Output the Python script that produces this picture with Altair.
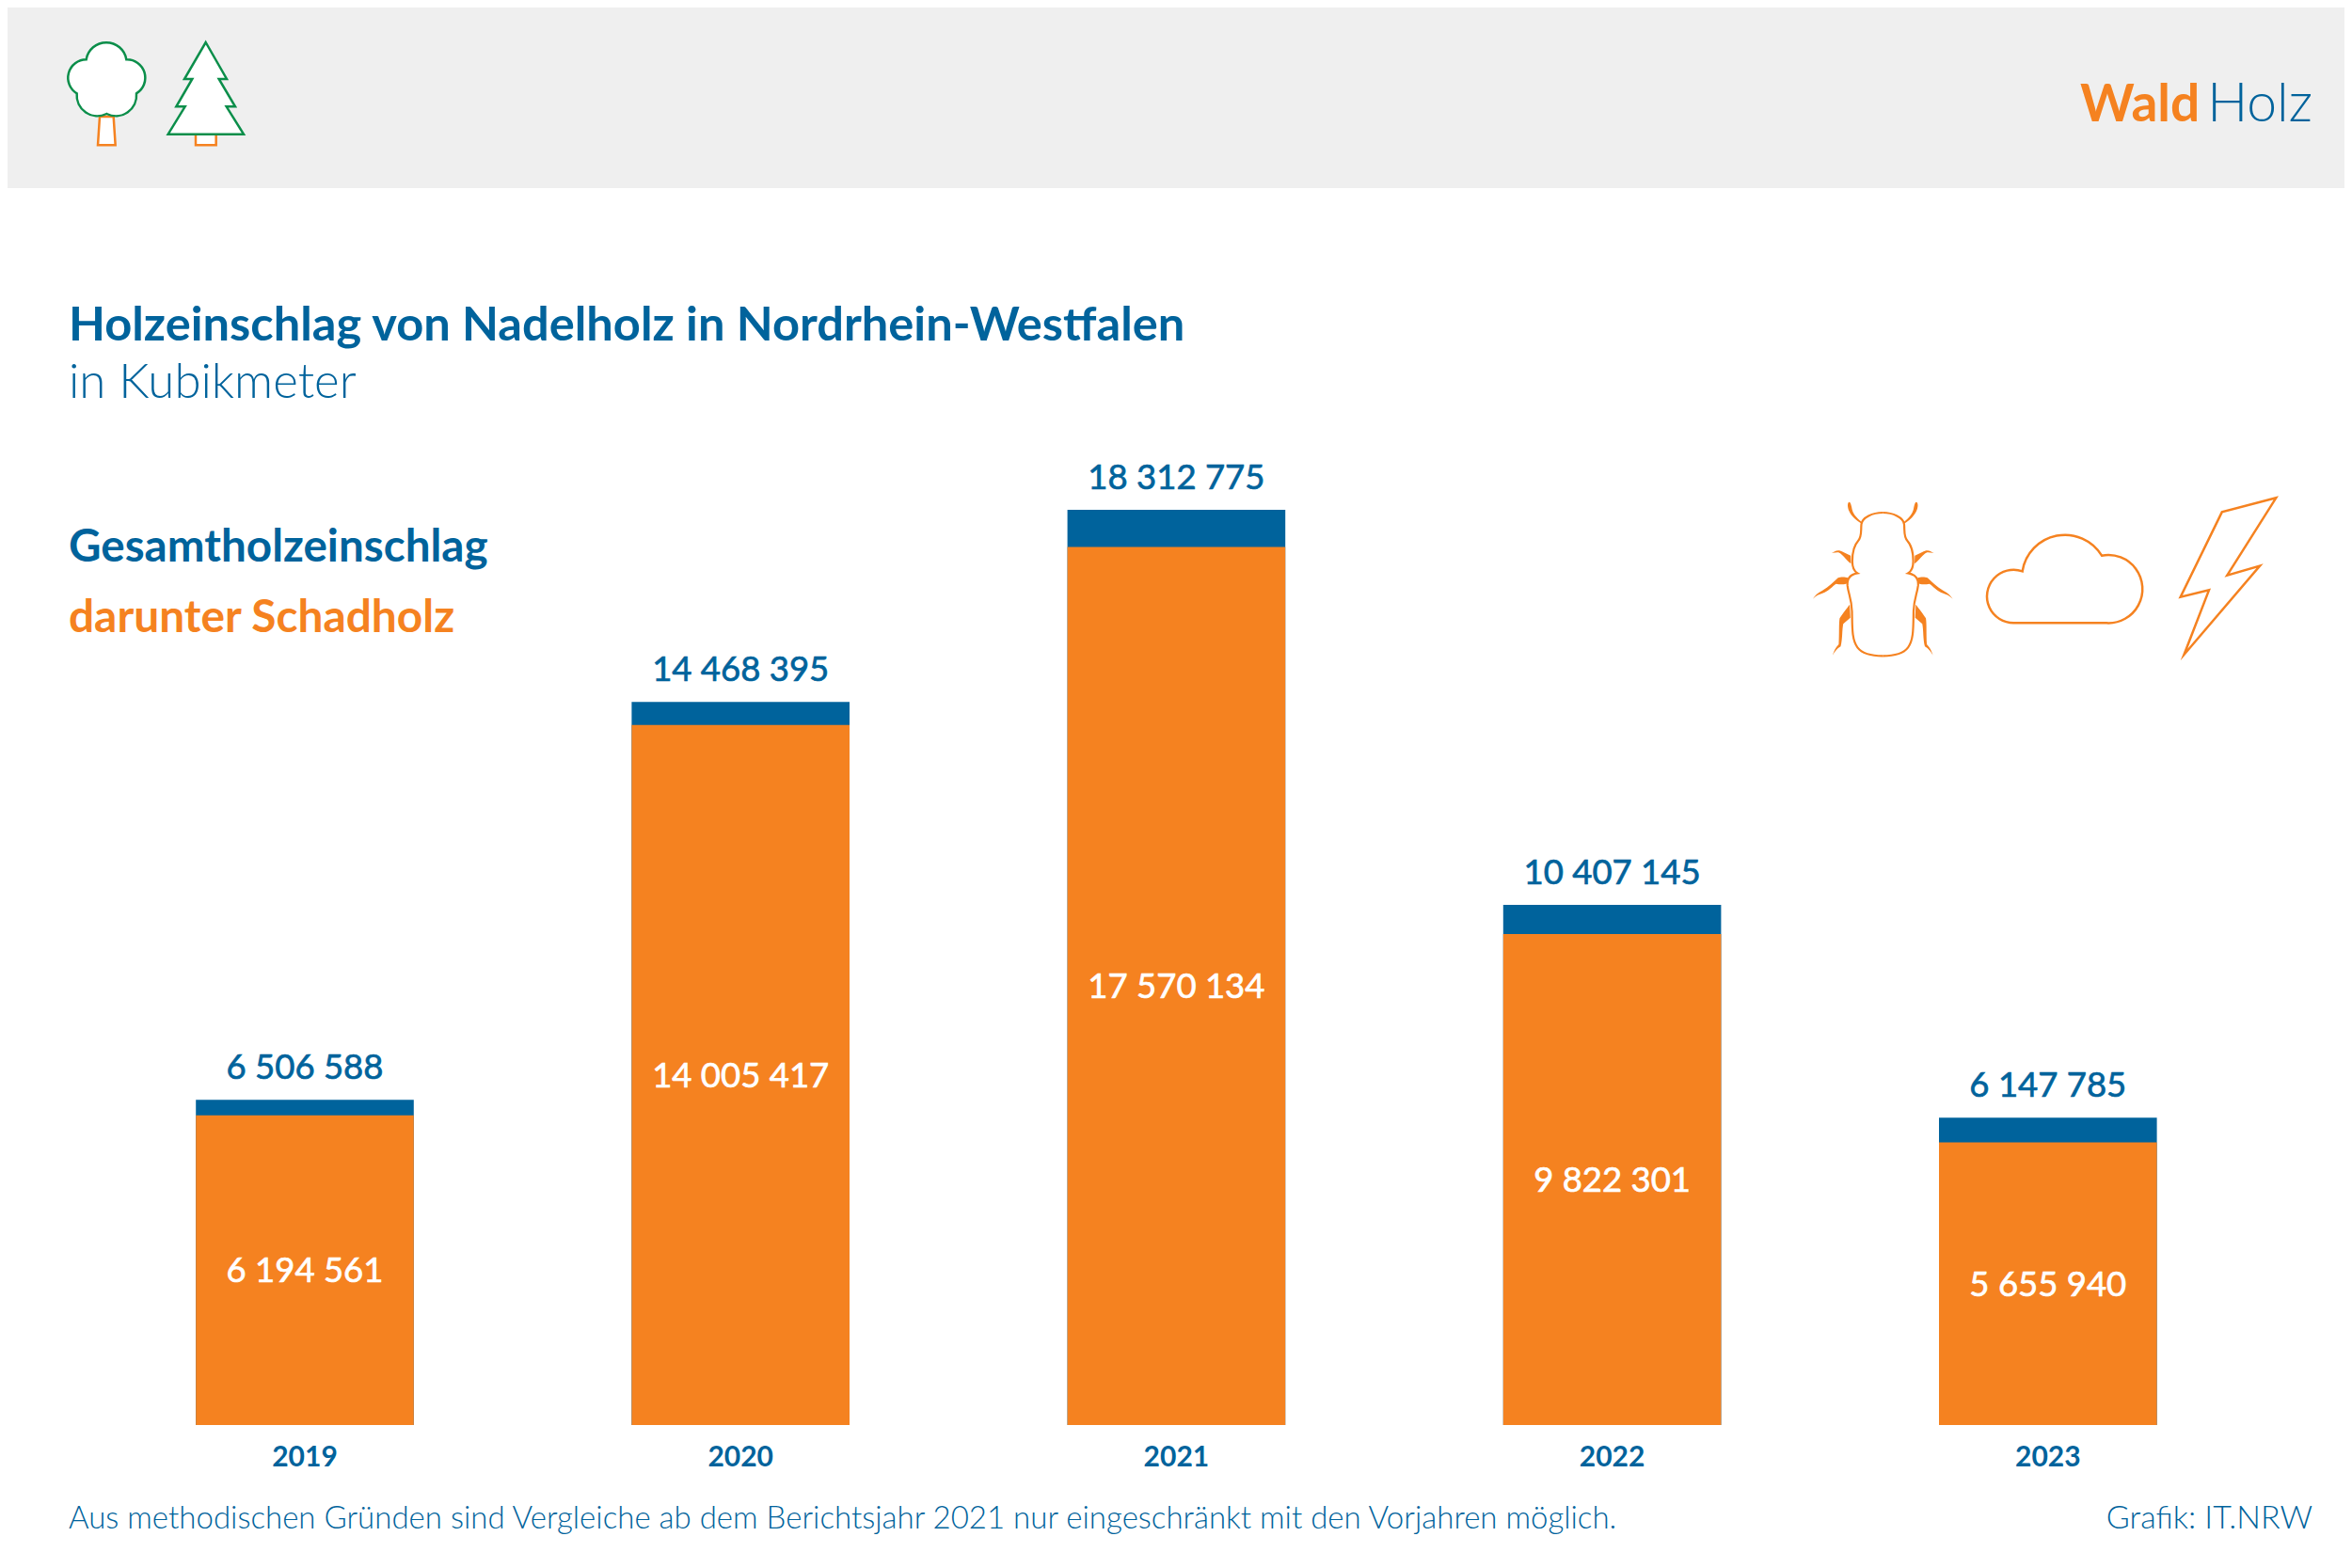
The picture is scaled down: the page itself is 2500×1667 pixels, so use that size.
import altair as alt
import pandas as pd

# ---------- data ----------
JAHRE = ["2019", "2020", "2021", "2022", "2023"]
GESAMT = [6506588, 14468395, 18312775, 10407145, 6147785]
SCHADHOLZ = [6194561, 14005417, 17570134, 9822301, 5655940]

TITEL = "Holzeinschlag von Nadelholz in Nordrhein-Westfalen"
UNTERTITEL = "in Kubikmeter"
LEGENDE_GESAMT = "Gesamtholzeinschlag"
LEGENDE_SCHAD = "darunter Schadholz"
FUSSNOTE = "Aus methodischen Gründen sind Vergleiche ab dem Berichtsjahr 2021 nur eingeschränkt mit den Vorjahren möglich."
QUELLE = "Grafik: IT.NRW"

BLUE = "#00639C"
ORANGE = "#F58220"
GREEN = "#0B8E4A"
BAND = "#EFEFEF"
FONT = "Lato"

def fmt(v):
    return f"{v:,}".replace(",", " ")

df = pd.DataFrame({
    "jahr": JAHRE,
    "gesamt": GESAMT,
    "schadholz": SCHADHOLZ,
    "gesamt_txt": [fmt(v) for v in GESAMT],
    "schad_txt": [fmt(v) for v in SCHADHOLZ],
})

# page pixel -> plot pixel
OX, OY = 92.4, 542.0
PW, PH = 2316, 973
one = pd.DataFrame({"a": [0]})

def px(x):
    return x - OX

def py(y):
    return y - OY

def txt(s, x, y, size, color, weight=400, align="left"):
    return alt.Chart(one).mark_text(
        text=s, font=FONT, fontSize=size, fontWeight=weight, color=color,
        align=align, baseline="alphabetic",
    ).encode(x=alt.value(px(x)), y=alt.value(py(y)))

def path(cmds, sx, sy, tx, ty):
    """cmds: list of (letter, numbers); coordinates read from a crop are mapped to the page.
    Arc radii are given in page pixels."""
    out = []
    def X(x):
        return px(x / sx + tx)
    def Y(y):
        return py(y / sy + ty)
    for c, n in cmds:
        if c == "Z":
            out.append("Z")
        elif c == "A":
            r, la, sw, x, y = n
            out.append(f"A{r:.2f},{r:.2f} 0 {la} {sw} {X(x):.2f},{Y(y):.2f}")
        else:
            pts = [f"{X(n[i]):.2f},{Y(n[i+1]):.2f}" for i in range(0, len(n), 2)]
            out.append(c + " ".join(pts))
    return "".join(out)

def icon(d, stroke=None, fill=None, sw=2.5):
    kw = {}
    if stroke:
        kw["stroke"] = stroke
        kw["strokeWidth"] = sw
    else:
        kw["strokeWidth"] = 0
    kw["fill"] = fill if fill else "transparent"
    return alt.Chart(one).mark_point(
        shape=d, size=4, filled=True, opacity=1, strokeJoin="miter", strokeMiterLimit=10, **kw
    ).encode(x=alt.value(0), y=alt.value(0))

def poly(pts):
    return [("M", pts[0])] + [("L", p) for p in pts[1:]] + [("Z", [])]

# tree icons (crop 3x at 0,0)
tree_trunk = path(poly([[318, 372], [312, 463], [368, 463], [362, 372]]), 3, 3, 0, 0)
tree_crown = path([
    ("M", [275, 190]), ("A", [21.6, 0, 1, 403, 190]), ("A", [19.4, 0, 1, 435, 298]),
    ("A", [22, 0, 1, 340, 363]), ("A", [22, 0, 1, 245, 298]), ("A", [19.4, 0, 1, 275, 190]), ("Z", []),
], 3, 3, 0, 0)
spruce_trunk = path(poly([[624, 425], [624, 463], [689, 463], [689, 425]]), 3, 3, 0, 0)
spruce = path(poly([[656, 135], [723, 252], [698, 252], [750, 340], [722, 340], [777, 428],
                    [536, 428], [590, 340], [562, 340], [613, 252], [588, 252]]), 3, 3, 0, 0)

# damage icons (crop at 1900,500)
SX2, SY2, TX2, TY2 = 2.904, 3.0, 1900, 500
bolt = path(poly([[1508, 88], [1341, 133], [1213, 404], [1301, 382], [1224, 588], [1458, 305], [1357, 335]]), SX2, SY2, TX2, TY2)
cloud = path([
    ("M", [700, 487]), ("A", [28.3, 1, 1, 725, 322]), ("A", [45.8, 0, 1, 970, 272]),
    ("A", [36.2, 1, 1, 985, 487]), ("Z", []),
], SX2, SY2, TX2, TY2)

MID = 294
body_right = [
    ("M", [294, 135]), ("C", [325, 135, 358, 150, 360, 172]), ("C", [362, 195, 358, 212, 370, 225]),
    ("C", [385, 242, 388, 262, 388, 290]), ("C", [388, 308, 382, 322, 372, 328]),
    ("C", [395, 332, 405, 345, 403, 368]), ("C", [400, 395, 390, 410, 389, 450]),
    ("C", [388, 500, 390, 540, 372, 565]), ("C", [355, 588, 320, 592, 294, 592]),
]
legs_right = [
    [("M", [358, 166]), ("C", [378, 150, 388, 135, 390, 118]), ("C", [392, 108, 394, 100, 398, 101]),
     ("C", [404, 104, 403, 118, 398, 130]), ("C", [390, 148, 375, 160, 360, 170]), ("Z", [])],
    [("M", [393, 272]), ("C", [405, 268, 418, 258, 428, 256]), ("C", [438, 254, 445, 262, 452, 263]),
     ("C", [445, 265, 436, 260, 428, 263]), ("C", [418, 268, 408, 285, 392, 298]), ("Z", [])],
    [("M", [402, 343]), ("C", [410, 340, 425, 340, 432, 343]), ("C", [445, 355, 460, 372, 480, 383]),
     ("C", [495, 390, 503, 400, 510, 410]), ("C", [500, 400, 490, 395, 480, 392]),
     ("C", [460, 385, 450, 370, 438, 362]), ("C", [425, 365, 410, 365, 402, 360]), ("Z", [])],
    [("M", [396, 428]), ("C", [405, 440, 420, 460, 427, 472]), ("C", [430, 490, 428, 520, 430, 555]),
     ("C", [440, 565, 445, 578, 449, 590]), ("C", [442, 578, 435, 568, 424, 562]),
     ("C", [418, 540, 420, 510, 416, 490]), ("L", [394, 470]), ("Z", [])],
]
def mirror_crop(cmds):
    res = []
    for c, n in cmds:
        res.append((c, [(2 * MID - v) if i % 2 == 0 else v for i, v in enumerate(n)]))
    return res
beetle_layers = [icon(path(body_right, SX2, SY2, TX2, TY2), stroke=ORANGE, sw=2.2),
                 icon(path(mirror_crop(body_right), SX2, SY2, TX2, TY2), stroke=ORANGE, sw=2.2)]
for leg in legs_right:
    beetle_layers.append(icon(path(leg, SX2, SY2, TX2, TY2), fill=ORANGE))
    beetle_layers.append(icon(path(mirror_crop(leg), SX2, SY2, TX2, TY2), fill=ORANGE))

# ---------- chart ----------
x_enc = alt.X("jahr:N", sort=JAHRE, title=None,
              scale=alt.Scale(paddingInner=0.5, paddingOuter=0.25),
              axis=alt.Axis(labelAngle=0, ticks=False, domain=False, labelFont=FONT, labelFontSize=30,
                            labelFontWeight=700, labelColor=BLUE, labelPadding=19, grid=False))
y_scale = alt.Scale(domain=[0, max(GESAMT)], nice=False)

base = alt.Chart(df)
gesamt_bar = base.mark_bar(color=BLUE, opacity=1).encode(
    x=x_enc, y=alt.Y("gesamt:Q", stack=None, scale=y_scale, axis=None))
schad_bar = base.mark_bar(color=ORANGE, opacity=1).encode(
    x=x_enc, y=alt.Y("schadholz:Q", stack=None, scale=y_scale, axis=None))
gesamt_lbl = base.mark_text(font=FONT, fontSize=36.5, fontWeight=400, color=BLUE, stroke=BLUE, strokeWidth=0.7,
                            baseline="alphabetic", dy=-22).encode(
    x=x_enc, y=alt.Y("gesamt:Q", scale=y_scale, axis=None), text="gesamt_txt:N")
schad_lbl = base.transform_calculate(mid="datum.schadholz / 2").mark_text(
    font=FONT, fontSize=36.5, fontWeight=400, color="#FFFFFF", stroke="#FFFFFF", strokeWidth=0.7,
    baseline="middle", dy=2).encode(
    x=x_enc, y=alt.Y("mid:Q", scale=y_scale, axis=None), text="schad_txt:N")

band = alt.Chart(one).mark_rect(color=BAND, opacity=1).encode(
    x=alt.value(px(0)), x2=alt.value(px(2500)), y=alt.value(py(0)), y2=alt.value(py(200)))

chart = alt.layer(
    band,
    gesamt_bar, schad_bar, gesamt_lbl, schad_lbl,
    txt("Wald", 2211, 129, 55, ORANGE, 700),
    txt("Holz", 2458, 129, 57, BLUE, 300, "right"),
    txt(TITEL, 73, 361.5, 50.6, BLUE, 700),
    txt(UNTERTITEL, 73, 423, 51, BLUE, 300),
    txt(LEGENDE_GESAMT, 73, 597, 47.6, BLUE, 700),
    txt(LEGENDE_SCHAD, 73, 672, 47.8, ORANGE, 700),
    txt(FUSSNOTE, 73, 1625, 33, BLUE, 300),
    txt(QUELLE, 2458, 1625, 34, BLUE, 300, "right"),
    icon(tree_trunk, stroke=ORANGE, fill="#FFFFFF"),
    icon(tree_crown, stroke=GREEN, fill="#FFFFFF"),
    icon(spruce_trunk, stroke=ORANGE, fill="#FFFFFF"),
    icon(spruce, stroke=GREEN, fill="#FFFFFF"),
    *beetle_layers,
    icon(cloud, stroke=ORANGE),
    icon(bolt, stroke=ORANGE),
).properties(
    width=PW, height=PH, background="#FFFFFF",
    padding={"left": OX - 8, "top": OY - 8, "right": 2484 - (OX - 8) - PW, "bottom": 1651 - (OY - 8) - PH},
    autosize=alt.AutoSizeParams(type="none"),
).configure_view(stroke=None)

chart.save("out.html", embed_options={"renderer": "svg", "actions": False})
